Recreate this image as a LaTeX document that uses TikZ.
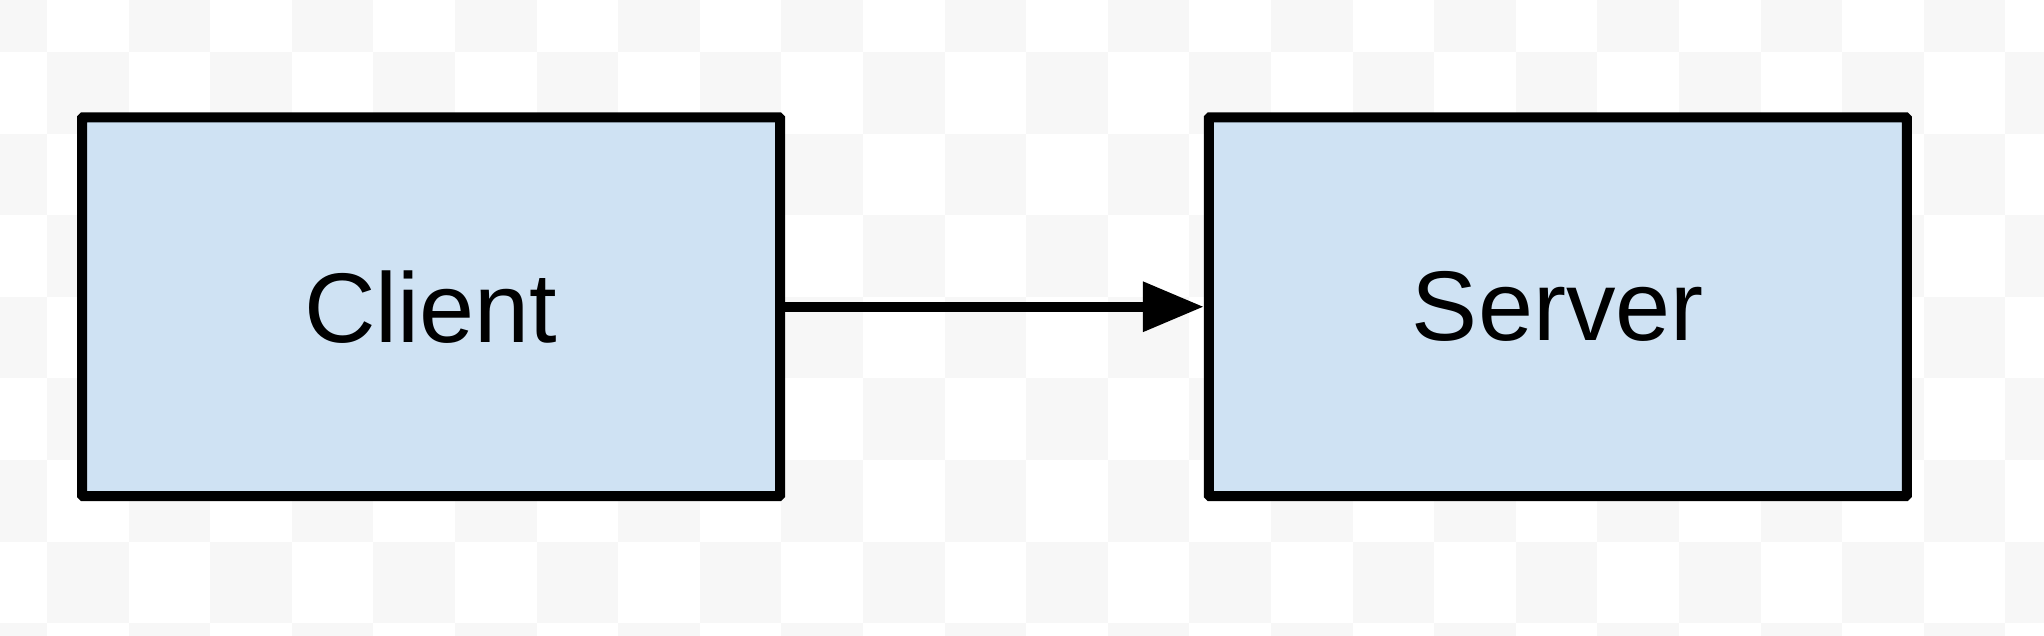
\documentclass[tikz,border=0pt]{standalone}
\usepackage{fontspec}
\setmainfont{Liberation Sans}
\usetikzlibrary{arrows.meta}
\definecolor{boxfill}{HTML}{CFE2F3}
\definecolor{checkgray}{HTML}{F7F7F7}
\tikzset{
  blockbox/.style={draw=black, fill=boxfill, line width=5pt, rounded corners=0.5pt,
    minimum width=349pt, minimum height=189.25pt, inner sep=0pt,
    font=\fontsize{49.5}{59}\selectfont, text=black},
  flowarrow/.style={draw=black, line width=5pt, -{Triangle[length=30.5pt,width=24pt]}}
}
\begin{document}
\begin{tikzpicture}[x=0.5pt,y=-0.5pt]
\useasboundingbox (0,0) rectangle (2044,636);
\fill[white] (0,0) rectangle (2044,636);
\begin{scope}
\clip (0,0) rectangle (2044,636);
\foreach \i in {-1,...,24} {
  \foreach \j in {-1,...,7} {
    \pgfmathtruncatemacro\sumij{\i+\j+2}
    \ifodd\sumij\else
      \fill[checkgray] ({47+81.6*\i},{52+81.6*\j}) rectangle ++(81.6,81.6);
    \fi
  }
}
\end{scope}
\node[blockbox] (client) at (431,306.75) {Client};
\node[blockbox] (server) at (1557.75,306.75) {Server};
\draw[flowarrow] (client.east) -- (server.west);
\end{tikzpicture}
\end{document}
